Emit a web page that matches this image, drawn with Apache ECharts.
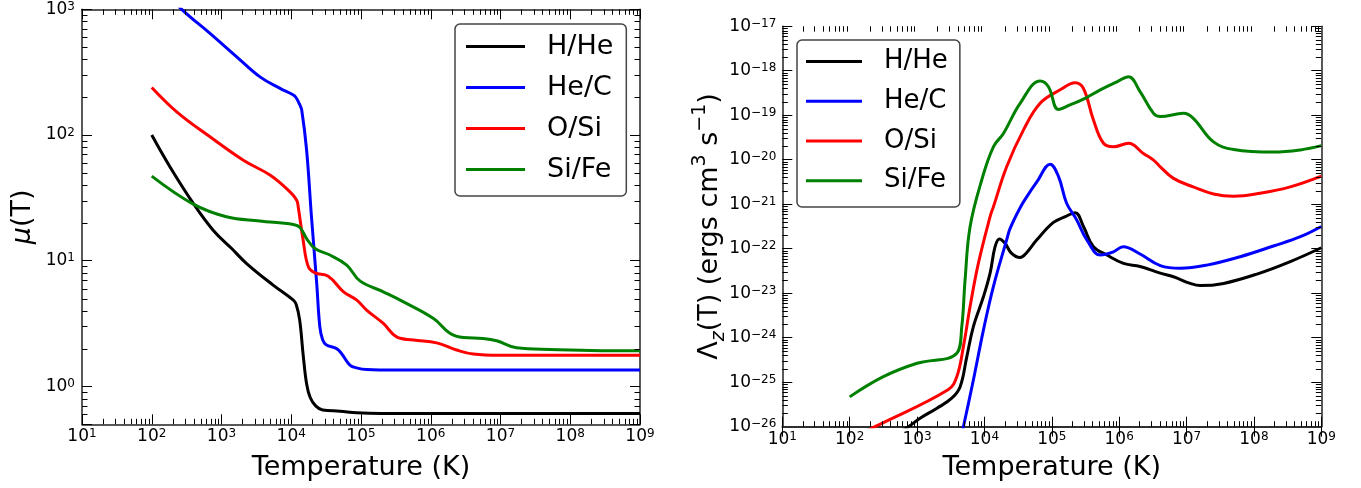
<!DOCTYPE html>
<html><head><meta charset="utf-8">
<script src="https://cdn.jsdelivr.net/npm/echarts@6/dist/echarts.min.js"></script>
<style>html,body{margin:0;padding:0;background:#fff}#c{width:1361px;height:488px}</style>
</head><body><div id="c"></div><script>
const FF = 'DejaVu Sans';
const seriesNames = ['H/He', 'He/C', 'O/Si', 'Si/Fe'];
const seriesColors = ['#000000', '#0000ff', '#ff0000', '#008000'];

// ---- Left panel: mean molecular weight mu(T) ----
const muHHeT = [100, 182, 394, 759, 1400, 2291, 5495, 10715, 11749, 13183, 14791, 16596, 18621, 22387, 28184, 50119, 87096, 199526, 1e9];
const muHHe  = [100, 56, 28.6, 17.5, 12.5, 9.5, 6.4, 4.86, 4.5, 3.4, 1.8, 1.05, 0.82, 0.70, 0.65, 0.636, 0.617, 0.61, 0.61];

const muHeCT = [100, 269, 684, 1652, 3565, 6902, 10715, 11749, 13183, 14125, 16596, 19498, 23174, 25704, 28184, 31623, 44668, 52481, 69183, 89125, 120226, 316228, 1e9];
const muHeC  = [1750, 1000, 643, 419, 290, 235, 208, 198, 175, 158, 76, 22.3, 6.6, 2.98, 2.35, 2.15, 2.0, 1.83, 1.48, 1.40, 1.365, 1.35, 1.35];

const muOSiT = [100, 228, 684, 2056, 4955, 9594, 11967, 12589, 14791, 17579, 21878, 33884, 56234, 87096, 120226, 208930, 323594, 562341, 1.216e6, 2.344e6, 4.074e6, 9.772e6, 1e9];
const muOSi  = [239, 153, 96.8, 63, 48, 35.3, 30.3, 26.8, 14.6, 8.94, 8.0, 7.54, 5.66, 4.86, 4.05, 3.17, 2.48, 2.34, 2.22, 1.95, 1.81, 1.77, 1.77];

const muSiFeT = [100, 394, 1175, 3548, 10715, 13335, 16596, 21878, 35892, 62373, 96605, 208930, 407380, 1.096e6, 1.905e6, 2.951e6, 5.623e6, 8.810e6, 1.698e7, 5.129e7, 8.913e8, 1e9];
const muSiFe  = [47.1, 28.2, 22.4, 20.7, 19.4, 18.4, 15.0, 12.5, 11.1, 9.23, 6.92, 5.66, 4.71, 3.47, 2.64, 2.45, 2.41, 2.31, 2.03, 1.97, 1.92, 1.92];

// ---- Right panel: cooling function Lambda_z(T) ----
const lamHHeT = [100, 741, 1109, 1950, 3273, 4365, 5470, 6855, 9661, 12134, 14388, 16672, 20277, 25119, 33884, 41687, 59979, 105682, 158489, 222331, 295121, 414954, 656145, 1.159e6, 2.042e6, 4.074e6, 6.397e6, 1.132e7, 1.585e7, 3.548e7, 1.109e8, 3.467e8, 1e9];
const lamHHe  = [1.58e-27, 1e-26, 1.55e-26, 2.57e-26, 4.37e-26, 7.94e-26, 3.72e-25, 1.78e-24, 8.32e-24, 2.82e-23, 1.11e-22, 1.66e-22, 1.32e-22, 7.94e-23, 6.31e-23, 7.94e-23, 1.58e-22, 3.89e-22, 5.25e-22, 6.46e-22, 3.16e-22, 1.11e-22, 7.24e-23, 4.68e-23, 3.98e-23, 2.82e-23, 2.34e-23, 1.66e-23, 1.48e-23, 1.66e-23, 2.69e-23, 5.13e-23, 1.05e-22];

const lamHeCT = [3981, 4875, 6855, 9661, 13583, 21380, 23988, 33884, 42658, 59979, 94406, 125893, 165959, 234423, 331131, 524807, 822243, 1.148e6, 2.042e6, 4.074e6, 8.054e6, 1.995e7, 6.266e7, 1.950e8, 4.898e8, 1e9];
const lamHeC  = [2.51e-27, 1e-26, 1.12e-25, 1.48e-24, 1.41e-23, 1.58e-22, 2.82e-22, 8.32e-22, 1.48e-21, 3.16e-21, 7.94e-21, 4.17e-21, 1.05e-21, 4.42e-22, 1.58e-22, 7.24e-23, 8.51e-23, 1.11e-22, 7.59e-23, 4.17e-23, 3.63e-23, 4.27e-23, 6.61e-23, 1.15e-22, 1.86e-22, 3.16e-22];

const lamOSiT = [100, 238, 2884, 3890, 4875, 6124, 8128, 12134, 13583, 21380, 38019, 67143, 133045, 222331, 295121, 414954, 584790, 822243, 1.380e6, 2.291e6, 3.236e6, 4.074e6, 6.397e6, 1.259e7, 2.512e7, 5.012e7, 1.230e8, 3.467e8, 1e9];
const lamOSi  = [5.13e-27, 1e-26, 6.76e-26, 1.33e-25, 6.31e-25, 5.01e-24, 4.68e-23, 5.25e-22, 8.71e-22, 6.92e-21, 4.68e-20, 1.86e-19, 3.72e-19, 5.37e-19, 3.98e-19, 7.76e-20, 2.34e-20, 1.95e-20, 2.34e-20, 1.38e-20, 9.77e-21, 6.92e-21, 3.80e-21, 2.45e-21, 1.70e-21, 1.51e-21, 1.76e-21, 2.45e-21, 4.27e-21];

const lamSiFeT = [100, 316, 1000, 3890, 4613, 5164, 6124, 9120, 13583, 19143, 33884, 67143, 89125, 125603, 186209, 295121, 524807, 924698, 1.380e6, 2.042e6, 3.236e6, 4.074e6, 9.016e6, 1.259e7, 2.512e7, 5.012e7, 1.950e8, 4.898e8, 1e9];
const lamSiFe  = [4.68e-26, 1.33e-25, 2.66e-25, 4.47e-25, 1.77e-24, 2.0e-23, 3.12e-22, 3.50e-21, 1.95e-20, 3.89e-20, 1.85e-19, 5.89e-19, 4.37e-19, 1.35e-19, 1.70e-19, 2.29e-19, 3.72e-19, 5.62e-19, 7.33e-19, 3.39e-19, 1.10e-19, 9.33e-20, 1.10e-19, 8.51e-20, 2.51e-20, 1.70e-20, 1.48e-20, 1.66e-20, 2.07e-20];

// axis ranges and minor tick multipliers
const xRange = [10, 1e9];
const muRange = [0.5, 1000];
const lamRange = [1e-26, 1e-17];
const minorMult = [2, 3, 4, 5, 6, 7, 8, 9];

function pairs(xs, ys) { return xs.map((x, i) => [x, ys[i]]); }

function expText(e) { return '{b|10}{s|' + String(e).replace('-', '\u2212') + '}'; }
function powLabel(v) {
  if (!(v > 0)) return '';
  const l = Math.log10(v); const e = Math.round(l);
  if (Math.abs(l - e) > 1e-6) return '';
  return expText(e);
}
const tickRich = {
  b: {fontFamily: FF, fontSize: 17, lineHeight: 17, verticalAlign: 'bottom', color: '#000'},
  s: {fontFamily: FF, fontSize: 12, lineHeight: 12, padding: [0, 0, 8, 0], verticalAlign: 'top', color: '#000'}
};
const tickRichZr = {
  b: {fontFamily: FF, fontSize: 17, lineHeight: 17, verticalAlign: 'bottom', fill: '#000'},
  s: {fontFamily: FF, fontSize: 12, lineHeight: 12, padding: [0, 0, 8, 0], verticalAlign: 'top', fill: '#000'}
};

function minorData(range, which, ref) {
  const out = [];
  const lo = Math.floor(Math.log10(range[0])), hi = Math.ceil(Math.log10(range[1]));
  for (let d = lo; d < hi; d++) {
    for (const m of minorMult) {
      const v = m * Math.pow(10, d);
      if (v > range[0] && v < range[1]) out.push(which === 0 ? [v, ref, 0] : [ref, v, 1]);
    }
  }
  return out;
}

function minorRender(params, api) {
  const cs = params.coordSys;
  const kind = api.value(2);
  const p = api.coord([api.value(0), api.value(1)]);
  const L = 5.5;
  const style = {stroke: '#000', lineWidth: 1};
  if (kind === 0) {
    const x = Math.round(p[0]) + 0.5;
    return {type: 'group', children: [
      {type: 'line', shape: {x1: x, y1: cs.y + cs.height, x2: x, y2: cs.y + cs.height - L}, style: style},
      {type: 'line', shape: {x1: x, y1: cs.y, x2: x, y2: cs.y + L}, style: style}
    ]};
  }
  const y = Math.round(p[1]) + 0.5;
  return {type: 'group', children: [
    {type: 'line', shape: {x1: cs.x, y1: y, x2: cs.x + L, y2: y}, style: style},
    {type: 'line', shape: {x1: cs.x + cs.width, y1: y, x2: cs.x + cs.width - L, y2: y}, style: style}
  ]};
}

// label for the bottom decade of the right panel (log scale rounds 1e-26 away)
function minLabelRender(params, api) {
  const p = api.coord([api.value(0), api.value(1)]);
  return {type: 'text', x: p[0] - 6, y: p[1], style: {
    text: expText(Math.round(Math.log10(api.value(1)))), rich: tickRichZr,
    align: 'right', verticalAlign: 'middle', fill: '#000'
  }};
}

const axisLineStyle = {show: true, lineStyle: {color: '#222', width: 1.5}};
const majorTick = {show: true, inside: true, length: 10, lineStyle: {color: '#000', width: 1}};

function xAx(grid, pos, withLabel, nameGap) {
  const a = {
    type: 'log', logBase: 10, gridIndex: grid, position: pos, min: xRange[0], max: xRange[1],
    axisLine: axisLineStyle, axisTick: majorTick, splitLine: {show: false}, minorTick: {show: false},
    axisLabel: {show: withLabel, formatter: powLabel, rich: tickRich, margin: 4}
  };
  if (withLabel) {
    a.name = 'Temperature (K)'; a.nameLocation = 'middle'; a.nameGap = nameGap; a.nameMoveOverlap = false;
    a.nameTextStyle = {fontFamily: FF, fontSize: 27, color: '#000'};
  }
  return a;
}
function yAx(grid, pos, range, withLabel) {
  return {
    type: 'log', logBase: 10, gridIndex: grid, position: pos, min: range[0], max: range[1],
    axisLine: axisLineStyle, axisTick: majorTick, splitLine: {show: false}, minorTick: {show: false},
    axisLabel: {show: withLabel, formatter: powLabel, rich: tickRich, margin: 7}
  };
}

const yLeft = yAx(0, 'left', muRange, true);
yLeft.name = '{i|\u03bc}{n|(T)}';
yLeft.nameLocation = 'middle'; yLeft.nameRotate = 90; yLeft.nameGap = 46; yLeft.nameMoveOverlap = false;
yLeft.nameTextStyle = {rich: {
  i: {fontFamily: FF, fontSize: 27, lineHeight: 27, fontStyle: 'italic', color: '#000'},
  n: {fontFamily: FF, fontSize: 27, lineHeight: 27, color: '#000'}
}};

const yRight = yAx(1, 'left', lamRange, true);
yRight.axisLabel.margin = 6;
yRight.axisLabel.showMinLabel = false;
yRight.name = '{n|\u039b}{sub|z}{n|(T) (ergs cm}{sup|3}{n| s}{sup|\u22121}{n|)}';
yRight.nameLocation = 'middle'; yRight.nameRotate = 90; yRight.nameGap = 65; yRight.nameMoveOverlap = false;
yRight.nameTextStyle = {rich: {
  n: {fontFamily: FF, fontSize: 27, lineHeight: 27, padding: [6, 0, 6, 0], verticalAlign: 'top', color: '#000'},
  sub: {fontFamily: FF, fontSize: 19, lineHeight: 19, padding: [19, 0, 1, 0], verticalAlign: 'top', fontStyle: 'italic', color: '#000'},
  sup: {fontFamily: FF, fontSize: 19, lineHeight: 19, padding: [0, 0, 20, 0], verticalAlign: 'top', color: '#000'}
}};
const yRightMirror = yAx(1, 'right', lamRange, false);

const leftData = [pairs(muHHeT, muHHe), pairs(muHeCT, muHeC), pairs(muOSiT, muOSi), pairs(muSiFeT, muSiFe)];
const rightData = [pairs(lamHHeT, lamHHe), pairs(lamHeCT, lamHeC), pairs(lamOSiT, lamOSi), pairs(lamSiFeT, lamSiFe)];

function lineSeries(i, data, xi, yi) {
  return {
    type: 'line', name: seriesNames[i], data: data, xAxisIndex: xi, yAxisIndex: yi,
    symbol: 'none', showSymbol: false, smooth: 0.4, clip: true,
    lineStyle: {color: seriesColors[i], width: 3}, itemStyle: {color: seriesColors[i]},
    emphasis: {disabled: true}, silent: true, z: 3
  };
}

const series = [];
for (let i = 0; i < 4; i++) series.push(lineSeries(i, leftData[i], 0, 0));
for (let i = 0; i < 4; i++) series.push(lineSeries(i, rightData[i], 2, 2));
series.push({type: 'custom', xAxisIndex: 0, yAxisIndex: 0, silent: true, clip: false, z: 4,
  data: minorData(xRange, 0, 1).concat(minorData(muRange, 1, 100)), renderItem: minorRender});
series.push({type: 'custom', xAxisIndex: 2, yAxisIndex: 2, silent: true, clip: false, z: 4,
  data: minorData(xRange, 0, 1e-20).concat(minorData(lamRange, 1, 100)), renderItem: minorRender});
series.push({type: 'custom', xAxisIndex: 2, yAxisIndex: 2, silent: true, clip: false, z: 4,
  data: [[xRange[0], lamRange[0]]], renderItem: minLabelRender});

function legendCfg(left, top, pad, iw, fs, gap) {
  return {
    show: true, orient: 'vertical', left: left, top: top, padding: pad,
    data: seriesNames.map((n, i) => ({name: n, icon: 'rect', itemStyle: {color: seriesColors[i]}})),
    itemWidth: iw, itemHeight: 3, itemGap: gap,
    borderColor: '#444', borderWidth: 1.5, borderRadius: 5, backgroundColor: '#fff',
    selectedMode: false,
    textStyle: {fontFamily: FF, fontSize: fs, lineHeight: fs, color: '#000', padding: [0, 0, 0, 17]}
  };
}

const chart = echarts.init(document.getElementById('c'), null, {renderer: 'canvas'});
chart.setOption({
  animation: false,
  backgroundColor: '#fff',
  grid: [
    {left: 82, right: 721, top: 9.3, bottom: 63.7, containLabel: false, outerBoundsMode: 'none'},
    {left: 782.3, right: 39.7, top: 26.2, bottom: 61.3, containLabel: false, outerBoundsMode: 'none'}
  ],
  xAxis: [xAx(0, 'bottom', true, 30), xAx(0, 'top', false), xAx(1, 'bottom', true, 27.3), xAx(1, 'top', false)],
  yAxis: [yLeft, yAx(0, 'right', muRange, false), yRight, yRightMirror],
  legend: [
    legendCfg(455, 24, [9, 13, 13, 11], 59, 27, 14),
    legendCfg(797, 40, [8.6, 12, 13.3, 9], 56, 26, 13.7)
  ],
  series: series
});
</script></body></html>
